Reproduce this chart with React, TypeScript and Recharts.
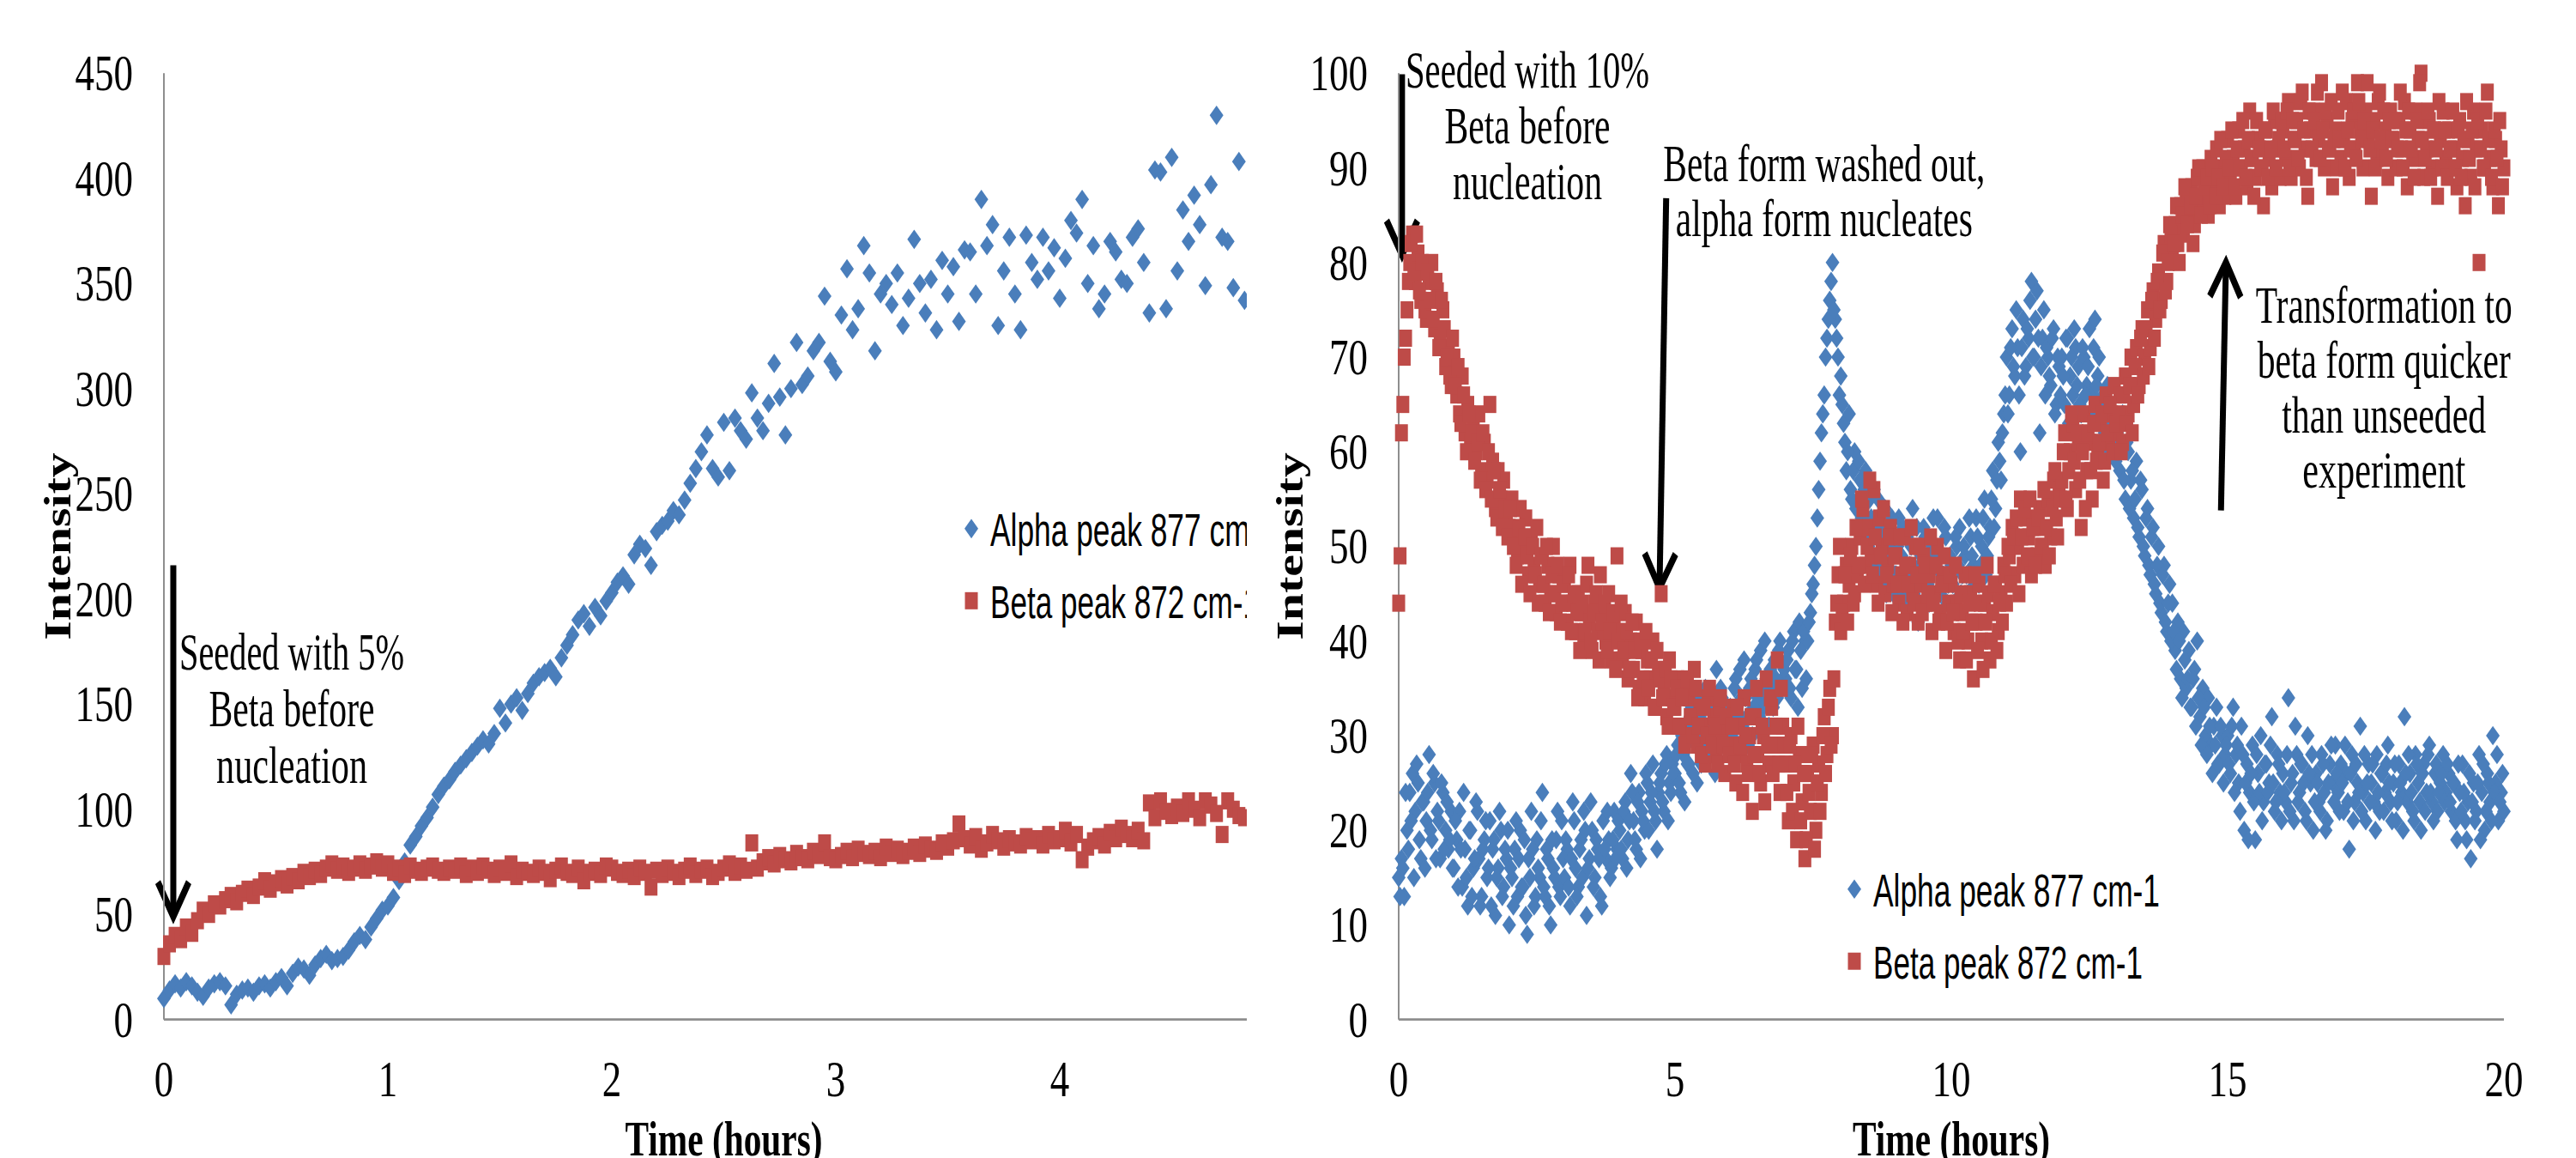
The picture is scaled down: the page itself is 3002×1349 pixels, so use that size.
import React from 'react';
import { ScatterChart, Scatter, XAxis, YAxis, Legend, ReferenceLine, ReferenceDot } from 'recharts';

// ---------- layout constants (chart drawn unstretched, then stretched vertically) ----------
const H0 = 1012;
const K = 1349 / H0;
const BLUE = '#4A7EBB';
const RED = '#BE4B48';
const AXIS_COLOR = '#8E8E8E';
const SERIF = "'Liberation Serif', 'Times New Roman', serif";
const SANS = "'Liberation Sans', Arial, sans-serif";

// ---------- data ----------
const SERIES_NAMES = ['Alpha peak 877 cm-1', 'Beta peak 872 cm-1'];
const X_TITLE = 'Time (hours)';
const Y_TITLE = 'Intensity';

const LEFT_STEP = 0.025; // hours between samples (left run)
const RIGHT_STEP = 0.05; // hours between samples (right run); *_MID arrays sit half a step later

const LEFT_X_TICKS = [0, 1, 2, 3, 4, 5];
const LEFT_Y_TICKS = [0, 50, 100, 150, 200, 250, 300, 350, 400, 450];
const RIGHT_X_TICKS = [0, 5, 10, 15, 20];
const RIGHT_Y_TICKS = [0, 10, 20, 30, 40, 50, 60, 70, 80, 90, 100];

const LEFT_ALPHA = [
  10, 14, 17, 15, 18, 16, 13, 11, 15, 17, 18, 16, 7, 12, 14, 15, 13, 16, 17, 15,
  18, 20, 16, 22, 25, 24, 21, 26, 29, 31, 28, 29, 30, 33, 37, 40, 38, 44, 48, 52,
  54, 58, 66, 75, 83, 87, 92, 96, 101, 107, 111, 114, 118, 121, 124, 127, 130, 133, 131, 136,
  148, 141, 150, 153, 147, 155, 160, 163, 165, 167, 163, 172, 178, 183, 190, 193, 187, 196, 192, 199,
  203, 208, 211, 207, 221, 226, 224, 216, 232, 235, 237, 242, 240, 247, 255, 262, 270, 278, 262, 258,
  284, 261, 286, 280, 276, 298, 286, 280, 293, 312, 296, 278, 300, 322, 302, 306, 318, 322, 344, 313,
  308, 335, 357, 328, 338, 368, 355, 318, 345, 350, 340, 355, 330, 343, 371, 350, 336, 352, 328, 361,
  345, 358, 332, 366, 365, 345, 390, 368, 378, 330, 356, 372, 345, 328, 373, 360, 352, 372, 356, 367,
  343, 362, 380, 374, 390, 350, 368, 338, 345, 370, 365, 352, 350, 372, 376, 360, 336, 404, 403, 338,
  410, 356, 385, 370, 392, 378, 349, 397, 430, 372, 370, 348, 408, 342,
];

const LEFT_BETA = [
  30, 36, 40, 38, 44, 41, 47, 52, 50, 55, 54, 57, 59, 56, 60, 62, 59, 63, 66, 62,
  65, 67, 64, 68, 66, 70, 68, 71, 69, 72, 74, 71, 73, 70, 72, 74, 71, 73, 75, 72,
  74, 70, 72, 69, 73, 71, 70, 72, 73, 71, 70, 72, 71, 73, 69, 72, 70, 73, 71, 69,
  72, 70, 74, 68, 71, 70, 69, 72, 70, 67, 71, 73, 70, 69, 72, 66, 70, 71, 69, 73,
  72, 70, 69, 71, 68, 72, 70, 63, 71, 69, 72, 70, 68, 71, 73, 69, 71, 72, 68, 70,
  72, 74, 70, 73, 71, 84, 72, 75, 77, 74, 78, 76, 75, 79, 77, 76, 80, 78, 84, 77,
  76, 78, 80, 77, 81, 79, 78, 80, 77, 82, 79, 81, 78, 80, 82, 79, 83, 81, 80, 84,
  82, 85, 93, 86, 83, 87, 81, 84, 88, 85, 82, 86, 84, 83, 87, 85, 86, 83, 88, 85,
  86, 90, 84, 88, 76, 82, 85, 87, 83, 89, 86, 91, 88, 86, 90, 85, 103, 96, 104, 99,
  97, 101, 98, 104, 100, 96, 104, 102, 98, 88, 104, 100, 97, 96,
];

const RIGHT_ALPHA = [
  15, 17, 13, 20, 24, 26, 22, 25, 17, 23, 21, 28, 19, 25, 22, 17, 24, 20, 18, 22,
  16, 19, 22, 14, 18, 12, 20, 16, 23, 17, 13, 19, 15, 21, 18, 11, 16, 20, 14, 17,
  10, 15, 18, 13, 20, 14, 11, 17, 22, 12, 19, 15, 24, 13, 17, 10, 16, 19, 14, 21,
  15, 18, 12, 23, 16, 14, 19, 22, 11, 17, 20, 15, 18, 13, 21, 17, 19, 16, 22, 18,
  20, 17, 23, 19, 26, 21, 18, 24, 22, 20, 25, 23, 27, 21, 24, 26, 22, 28, 25, 27,
  26, 29, 24, 28, 31, 27, 33, 30, 25, 32, 29, 35, 31, 28, 33, 37, 30, 34, 32, 29,
  33, 31, 36, 29, 34, 38, 32, 35, 30, 37, 34, 39, 33, 36, 31, 35, 38, 34, 40, 36,
  36, 39, 34, 41, 37, 42, 35, 40, 40, 43, 46, 50, 56, 62, 66, 72, 76, 80, 74, 70,
  68, 63, 58, 64, 55, 60, 52, 57, 54, 58, 50, 53, 56, 48, 52, 49, 54, 46, 50, 45,
  47, 53, 49, 45, 51, 48, 54, 46, 42, 49, 52, 47, 44, 50, 48, 53, 45, 47, 51, 46,
  48, 44, 50, 52, 47, 49, 45, 51, 48, 53, 46, 50, 55, 49, 52, 58, 54, 61, 57, 64,
  70, 66, 73, 68, 71, 60, 74, 69, 72, 78, 70, 77, 62, 72, 66, 70, 67, 73, 65, 69,
  70, 65, 72, 68, 66, 71, 69, 64, 70, 67, 73, 66, 74, 68, 63, 66, 62, 65, 61, 64,
  62, 58, 64, 55, 60, 57, 53, 59, 51, 56, 49, 54, 47, 52, 45, 50, 43, 48, 41, 46,
  44, 39, 42, 36, 41, 35, 39, 33, 37, 40, 32, 35, 30, 34, 29, 31, 33, 27, 30, 28,
  30, 26, 33, 28, 25, 31, 20, 27, 24, 29, 19, 26, 30, 23, 27, 25, 32, 22, 28, 24,
  26, 23, 34, 25, 21, 28, 24, 27, 22, 30, 25, 20, 26, 23, 28, 24, 21, 27, 25, 29,
  24, 27, 22, 26, 18, 28, 23, 25, 31, 24, 21, 27, 25, 23, 28, 22, 26, 24, 29, 23,
  25, 21, 27, 24, 32, 23, 26, 22, 28, 25, 20, 27, 24, 29, 23, 26, 22, 25, 28, 24,
  26, 22, 25, 19, 24, 27, 21, 23, 17, 25, 22, 28, 24, 20, 26, 23, 30, 25, 21, 24,
  22,
];

const RIGHT_ALPHA_MID = [
  13, 16, 24, 18, 21, 15, 27, 19, 23, 16, 24, 20, 26, 17, 21, 25, 18, 23, 19, 16,
  21, 14, 18, 24, 15, 20, 13, 17, 22, 12, 18, 21, 16, 12, 19, 15, 22, 13, 18, 20,
  16, 12, 21, 17, 14, 19, 9, 15, 18, 13, 16, 21, 14, 18, 12, 19, 15, 22, 13, 17,
  19, 14, 17, 21, 13, 18, 15, 20, 16, 23, 14, 19, 17, 12, 18, 22, 15, 19, 17, 21,
  18, 22, 16, 21, 24, 19, 23, 17, 21, 26, 20, 24, 22, 18, 25, 23, 27, 21, 24, 26,
  28, 25, 30, 23, 27, 32, 26, 29, 34, 27, 31, 28, 33, 30, 26, 32, 35, 29, 33, 31,
  30, 35, 32, 37, 31, 34, 29, 36, 33, 38, 32, 35, 40, 34, 37, 33, 36, 39, 35, 37,
  38, 35, 40, 37, 33, 39, 41, 36, 42, 45, 48, 53, 59, 64, 70, 74, 78, 75, 72, 66,
  65, 61, 60, 56, 58, 54, 59, 53, 56, 51, 55, 49, 52, 55, 47, 51, 45, 49, 53, 47,
  50, 46, 52, 47, 44, 50, 45, 52, 48, 44, 51, 46, 49, 53, 45, 49, 47, 52, 44, 49,
  46, 51, 48, 45, 50, 47, 53, 49, 46, 51, 48, 53, 47, 51, 55, 52, 57, 59, 62, 66,
  64, 71, 69, 75, 66, 71, 68, 73, 76, 70, 74, 72, 69, 75, 71, 68, 72, 64, 70, 66,
  68, 72, 63, 70, 73, 67, 65, 71, 66, 69, 64, 71, 67, 70, 65, 62, 67, 60, 63, 59,
  60, 63, 57, 61, 54, 58, 55, 52, 57, 50, 53, 48, 51, 46, 48, 44, 47, 42, 44, 40,
  41, 37, 40, 34, 38, 36, 33, 36, 31, 34, 29, 33, 28, 31, 26, 29, 27, 31, 25, 29,
  27, 31, 24, 29, 22, 28, 25, 19, 26, 23, 28, 24, 21, 27, 24, 29, 25, 23, 27, 21,
  24, 28, 22, 26, 31, 23, 27, 25, 21, 26, 28, 23, 25, 22, 27, 20, 25, 29, 23, 26,
  22, 25, 29, 23, 26, 21, 27, 24, 22, 28, 25, 23, 27, 20, 24, 26, 22, 27, 25, 21,
  27, 23, 25, 20, 26, 28, 24, 21, 27, 23, 26, 22, 28, 24, 21, 27, 24, 26, 23, 27,
  23, 25, 21, 27, 22, 24, 19, 26, 23, 21, 25, 19, 27, 22, 25, 21, 24, 28, 23, 26,
];

const RIGHT_BETA = [
  44, 62, 70, 75, 80, 83, 78, 81, 76, 79, 74, 78, 80, 73, 77, 72, 75, 69, 71, 67,
  70, 66, 64, 68, 62, 65, 61, 63, 60, 64, 58, 61, 57, 65, 59, 54, 58, 55, 57, 53,
  52, 55, 51, 49, 54, 50, 53, 47, 51, 48, 52, 46, 49, 44, 48, 45, 50, 43, 47, 44,
  46, 42, 48, 44, 41, 45, 43, 40, 46, 42, 39, 44, 41, 47, 43, 40, 45, 38, 42, 49,
  41, 38, 43, 36, 40, 37, 42, 35, 39, 34, 38, 36, 40, 33, 37, 45, 35, 32, 38, 34,
  33, 36, 31, 35, 30, 34, 32, 37, 29, 33, 31, 27, 34, 30, 32, 28, 33, 30, 26, 31,
  29, 33, 25, 31, 28, 34, 27, 30, 22, 32, 28, 25, 30, 36, 27, 33, 29, 38, 24, 31,
  27, 21, 30, 25, 19, 28, 23, 17, 26, 22, 29, 20, 27, 24, 32, 28, 35, 30, 42, 47,
  41, 44, 48, 46, 50, 45, 47, 51, 54, 48, 52, 49, 56, 46, 53, 50, 45, 48, 52, 46,
  49, 44, 47, 51, 43, 48, 45, 50, 42, 46, 49, 44, 47, 41, 45, 50, 43, 47, 39, 44,
  46, 41, 44, 38, 43, 47, 40, 45, 36, 42, 46, 40, 44, 48, 38, 43, 46, 41, 45, 48,
  44, 49, 52, 47, 50, 55, 48, 53, 51, 47, 52, 49, 54, 50, 48, 55, 51, 57, 53, 56,
  57, 62, 54, 60, 63, 56, 61, 52, 64, 58, 61, 55, 65, 60, 63, 57, 66, 61, 64, 67,
  62, 66, 61, 68, 64, 70, 65, 71, 67, 73, 70, 75, 71, 77, 74, 79, 76, 82, 78, 84,
  81, 84, 82, 86, 83, 87, 85, 88, 84, 89, 86, 90, 87, 85, 91, 88, 92, 86, 90, 87,
  93, 89, 91, 87, 94, 90, 92, 88, 96, 91, 89, 93, 90, 86, 94, 91, 88, 95, 92, 89,
  94, 91, 97, 89, 93, 95, 90, 98, 92, 87, 94, 96, 91, 93, 99, 90, 95, 92, 88, 94,
  96, 91, 93, 97, 89, 95, 92, 99, 94, 90, 96, 93, 87, 95, 91, 98, 92, 94, 89, 96,
  93, 90, 95, 92, 97, 88, 94, 91, 96, 93, 100, 89, 92, 95, 90, 94, 87, 93, 96, 91,
  94, 90, 92, 88, 95, 91, 86, 93, 89, 96, 92, 80, 94, 90, 98, 91, 88, 93, 86, 92,
  90,
];

const RIGHT_BETA_MID = [
  49, 65, 72, 78, 82, 79, 83, 77, 80, 75, 79, 76, 74, 78, 71, 76, 73, 70, 68, 72,
  67, 69, 63, 66, 60, 64, 62, 59, 61, 57, 62, 56, 60, 55, 58, 53, 56, 52, 54, 51,
  54, 50, 48, 52, 46, 51, 49, 45, 50, 47, 44, 49, 46, 50, 43, 47, 45, 48, 42, 46,
  44, 47, 41, 45, 43, 39, 44, 41, 48, 40, 43, 45, 38, 42, 44, 39, 41, 43, 37, 40,
  44, 39, 41, 37, 42, 39, 34, 40, 36, 41, 35, 38, 33, 39, 36, 34, 37, 31, 36, 33,
  35, 31, 34, 29, 36, 32, 30, 35, 31, 28, 33, 30, 35, 29, 31, 27, 34, 29, 32, 28,
  31, 27, 33, 29, 24, 30, 26, 32, 28, 35, 26, 31, 23, 29, 34, 26, 31, 27, 35, 29,
  24, 29, 22, 27, 31, 21, 26, 19, 24, 28, 18, 25, 22, 30, 26, 33, 29, 36, 44, 50,
  43, 47, 42, 49, 44, 52, 48, 55, 46, 50, 57, 47, 51, 44, 49, 54, 47, 51, 43, 49,
  46, 51, 42, 48, 46, 52, 44, 47, 50, 43, 48, 45, 51, 44, 48, 42, 46, 49, 42, 47,
  43, 48, 40, 45, 41, 38, 44, 42, 47, 39, 44, 37, 42, 45, 40, 46, 39, 44, 42, 47,
  50, 46, 51, 53, 45, 51, 54, 49, 55, 52, 48, 53, 50, 56, 52, 49, 54, 58, 51, 55,
  60, 55, 58, 64, 59, 62, 57, 60, 54, 62, 58, 63, 59, 61, 64, 59, 62, 65, 60, 63,
  64, 60, 66, 63, 67, 62, 69, 66, 72, 68, 73, 69, 76, 72, 78, 75, 81, 77, 80, 83,
  82, 86, 80, 85, 88, 84, 86, 82, 87, 90, 85, 88, 89, 86, 90, 87, 89, 93, 88, 91,
  90, 94, 88, 92, 90, 95, 89, 93, 91, 87, 95, 92, 90, 94, 89, 92, 96, 90, 93, 95,
  92, 96, 90, 95, 93, 91, 97, 94, 89, 96, 92, 95, 98, 91, 94, 96, 92, 97, 93, 90,
  93, 98, 90, 94, 92, 96, 91, 97, 93, 95, 99, 92, 94, 90, 97, 93, 96, 91, 95, 93,
  95, 92, 98, 90, 94, 96, 92, 89, 95, 99, 93, 91, 96, 89, 94, 92, 97, 90, 94, 89,
  92, 96, 90, 94, 89, 93, 97, 91, 94, 88, 95, 92, 90, 96, 93, 89, 94, 91, 95, 88,
];

// annotation texts
const LEFT_NOTE = ['Seeded with 5%', 'Beta before', 'nucleation'];
const RIGHT_NOTE_1 = ['Seeded with 10%', 'Beta before', 'nucleation'];
const RIGHT_NOTE_2 = ['Beta form washed out,', 'alpha form nucleates'];
const RIGHT_NOTE_3 = ['Transformation to', 'beta form quicker', 'than unseeded', 'experiment'];

const toPoints = (vals: number[], step: number, shift = 0) =>
  vals.map((v, i) => ({ x: Math.round((i + shift) * step * 10000) / 10000, y: v }));

// ---------- shapes ----------
function DiamondShape(props: any) {
  const { cx, cy } = props;
  if (cx == null || cy == null) return <g />;
  return (
    <polygon
      points={`${cx},${cy - 8.5} ${cx + 8},${cy} ${cx},${cy + 8.5} ${cx - 8},${cy}`}
      fill={BLUE}
    />
  );
}

function SquareShape(props: any) {
  const { cx, cy } = props;
  if (cx == null || cy == null) return <g />;
  return <rect x={cx - 7.5} y={cy - 7.5} width={15} height={15} fill={RED} />;
}

function ArrowShape(props: any) {
  const { x1, y1, x2, y2 } = props;
  if ([x1, y1, x2, y2].some((v) => v == null || Number.isNaN(v))) return <g />;
  const dx = x2 - x1;
  const dy = y2 - y1;
  const len = Math.hypot(dx, dy) || 1;
  const ux = dx / len;
  const uy = dy / len;
  const hl = 30;
  const hw = 18;
  const bx = x2 - ux * hl;
  const by = y2 - uy * hl;
  const px = -uy;
  const py = ux;
  return (
    <g>
      <line x1={x1} y1={y1} x2={x2 - ux * 4} y2={y2 - uy * 4} stroke="#000" strokeWidth={7} />
      <polyline
        points={`${bx + px * hw},${by + py * hw} ${x2},${y2} ${bx - px * hw},${by - py * hw}`}
        fill="none"
        stroke="#000"
        strokeWidth={7}
        strokeLinejoin="miter"
      />
    </g>
  );
}

function makeNote(lines: string[], widths: number[], lh: number) {
  return (props: any) => {
    const { cx, cy } = props;
    if (cx == null || cy == null) return <g />;
    return (
      <g>
        {lines.map((t, i) => (
          <text
            key={i}
            x={cx}
            y={cy + i * lh}
            textAnchor="middle"
            fontFamily={SERIF}
            fontSize={46}
            fill="#000"
            textLength={widths[i]}
            lengthAdjust="spacingAndGlyphs"
          >
            {t}
          </text>
        ))}
      </g>
    );
  };
}

function makeLegend(rowGap: number, widths: number[]) {
  return (props: any) => {
    const payload = props.payload || [];
    return (
      <svg width={420} height={130} style={{ overflow: 'visible', display: 'block' }}>
        {payload.map((e: any, i: number) => {
          const cy = 20 + i * rowGap;
          return (
            <g key={i}>
              {i === 0 ? (
                <polygon points={`10,${cy - 8.5} 18,${cy} 10,${cy + 8.5} 2,${cy}`} fill={BLUE} />
              ) : (
                <rect x={2.5} y={cy - 7.5} width={15} height={15} fill={RED} />
              )}
              <text
                x={32}
                y={cy + 15}
                fontFamily={SANS}
                fontSize={40}
                fill="#000"
                textLength={widths[i]}
                lengthAdjust="spacingAndGlyphs"
              >
                {e.value}
              </text>
            </g>
          );
        })}
      </svg>
    );
  };
}

const XTick = (props: any) => {
  const { x, y, payload } = props;
  return (
    <text x={x} y={y + 67} textAnchor="middle" fontFamily={SERIF} fontSize={45} fill="#000">
      {payload.value}
    </text>
  );
};

const YTick = (props: any) => {
  const { x, y, payload } = props;
  return (
    <text x={x - 36} y={y + 15} textAnchor="end" fontFamily={SERIF} fontSize={45} fill="#000">
      {payload.value}
    </text>
  );
};

const yTitle = (offsetX: number) => (p: any) => {
  const vb = p.viewBox || {};
  const x = (vb.x || 0) + offsetX;
  const y = (vb.y || 0) + (vb.height || 0) / 2;
  return (
    <text
      x={x}
      y={y}
      transform={`rotate(-90 ${x} ${y})`}
      textAnchor="middle"
      fontFamily={SERIF}
      fontWeight="bold"
      fontSize={44}
      fill="#000"
      textLength={164}
      lengthAdjust="spacingAndGlyphs"
    >
      {Y_TITLE}
    </text>
  );
};

const xTitle = (p: any) => {
  const vb = p.viewBox || {};
  const x = (vb.x || 0) + (vb.width || 0) / 2;
  const y = (vb.y || 0) + 119;
  return (
    <text
      x={x}
      y={y}
      textAnchor="middle"
      fontFamily={SERIF}
      fontWeight="bold"
      fontSize={43}
      fill="#000"
      textLength={230}
      lengthAdjust="spacingAndGlyphs"
    >
      {X_TITLE}
    </text>
  );
};

const leftAlpha = toPoints(LEFT_ALPHA, LEFT_STEP);
const leftBeta = toPoints(LEFT_BETA, LEFT_STEP);
const rightAlpha = [...toPoints(RIGHT_ALPHA, RIGHT_STEP), ...toPoints(RIGHT_ALPHA_MID, RIGHT_STEP, 0.5)];
const rightBeta = [...toPoints(RIGHT_BETA, RIGHT_STEP), ...toPoints(RIGHT_BETA_MID, RIGHT_STEP, 0.5)];

const LEGEND_WIDTHS = [334, 314];
const axisLine = { stroke: AXIS_COLOR, strokeWidth: 2 };

function LeftChart() {
  return (
    <ScatterChart width={1600} height={H0} margin={{ top: 64, right: 104, bottom: 0, left: 0 }}>
      <XAxis
        type="number"
        dataKey="x"
        domain={[0, 5]}
        ticks={LEFT_X_TICKS}
        axisLine={axisLine}
        tickLine={false}
        tickSize={0}
        tickMargin={0}
        tick={XTick}
        height={121}
        label={{ content: xTitle }}
      />
      <YAxis
        type="number"
        dataKey="y"
        domain={[0, 450]}
        ticks={LEFT_Y_TICKS}
        axisLine={axisLine}
        tickLine={false}
        tickSize={0}
        tickMargin={0}
        tick={YTick}
        width={191}
        label={{ content: yTitle(82) }}
      />
      <Scatter name={SERIES_NAMES[0]} data={leftAlpha} fill={BLUE} shape={DiamondShape} isAnimationActive={false} />
      <Scatter name={SERIES_NAMES[1]} data={leftBeta} fill={RED} shape={SquareShape} isAnimationActive={false} />
      <ReferenceLine
        segment={[{ x: 0.042, y: 216 }, { x: 0.042, y: 49 }]}
        ifOverflow="visible"
        shape={ArrowShape}
      />
      <ReferenceDot
        x={0.571}
        y={166.6}
        r={1}
        ifOverflow="visible"
        shape={makeNote(LEFT_NOTE, [262, 193, 176], 49.5)}
      />
      <Legend
        layout="vertical"
        align="center"
        verticalAlign="middle"
        wrapperStyle={{ left: 1122, top: 442, width: 420, height: 130 }}
        content={makeLegend(63, LEGEND_WIDTHS)}
      />
    </ScatterChart>
  );
}

function RightChart() {
  return (
    <ScatterChart width={1542} height={H0} margin={{ top: 64, right: 84, bottom: 0, left: 0 }}>
      <XAxis
        type="number"
        dataKey="x"
        domain={[0, 20]}
        ticks={RIGHT_X_TICKS}
        axisLine={axisLine}
        tickLine={false}
        tickSize={0}
        tickMargin={0}
        tick={XTick}
        height={121}
        label={{ content: xTitle }}
      />
      <YAxis
        type="number"
        dataKey="y"
        domain={[0, 100]}
        ticks={RIGHT_Y_TICKS}
        axisLine={axisLine}
        tickLine={false}
        tickSize={0}
        tickMargin={0}
        tick={YTick}
        width={170}
        label={{ content: yTitle(58) }}
      />
      <Scatter name={SERIES_NAMES[0]} data={rightAlpha} fill={BLUE} shape={DiamondShape} isAnimationActive={false} />
      <Scatter name={SERIES_NAMES[1]} data={rightBeta} fill={RED} shape={SquareShape} isAnimationActive={false} />
      <ReferenceLine
        segment={[{ x: 0.06, y: 99.9 }, { x: 0.06, y: 80.8 }]}
        ifOverflow="visible"
        shape={ArrowShape}
      />
      <ReferenceLine
        segment={[{ x: 4.84, y: 86.8 }, { x: 4.72, y: 45.6 }]}
        ifOverflow="visible"
        shape={ArrowShape}
      />
      <ReferenceLine
        segment={[{ x: 14.88, y: 53.8 }, { x: 14.97, y: 80.0 }]}
        ifOverflow="visible"
        shape={ArrowShape}
      />
      <ReferenceDot x={2.33} y={98.5} r={1} ifOverflow="visible" shape={makeNote(RIGHT_NOTE_1, [284, 193, 174], 48.8)} />
      <ReferenceDot x={7.7} y={88.6} r={1} ifOverflow="visible" shape={makeNote(RIGHT_NOTE_2, [375, 346], 48)} />
      <ReferenceDot x={17.83} y={73.6} r={1} ifOverflow="visible" shape={makeNote(RIGHT_NOTE_3, [299, 295, 238, 190], 48)} />
      <Legend
        layout="vertical"
        align="center"
        verticalAlign="middle"
        wrapperStyle={{ left: 691, top: 757, width: 420, height: 130 }}
        content={makeLegend(63, LEGEND_WIDTHS)}
      />
    </ScatterChart>
  );
}

export default function App() {
  return (
    <div
      style={{
        position: 'absolute',
        left: 0,
        top: 0,
        width: 3002,
        height: 1349,
        overflow: 'hidden',
        background: '#fff',
      }}
    >
      <div style={{ position: 'absolute', left: 0, top: 0, width: 1453, height: 1349, overflow: 'hidden' }}>
        <div style={{ width: 1600, height: H0, transform: `scaleY(${K})`, transformOrigin: '0 0' }}>
          <LeftChart />
        </div>
      </div>
      <div style={{ position: 'absolute', left: 1460, top: 0, width: 1542, height: 1349, overflow: 'hidden' }}>
        <div style={{ width: 1542, height: H0, transform: `scaleY(${K})`, transformOrigin: '0 0' }}>
          <RightChart />
        </div>
      </div>
    </div>
  );
}
